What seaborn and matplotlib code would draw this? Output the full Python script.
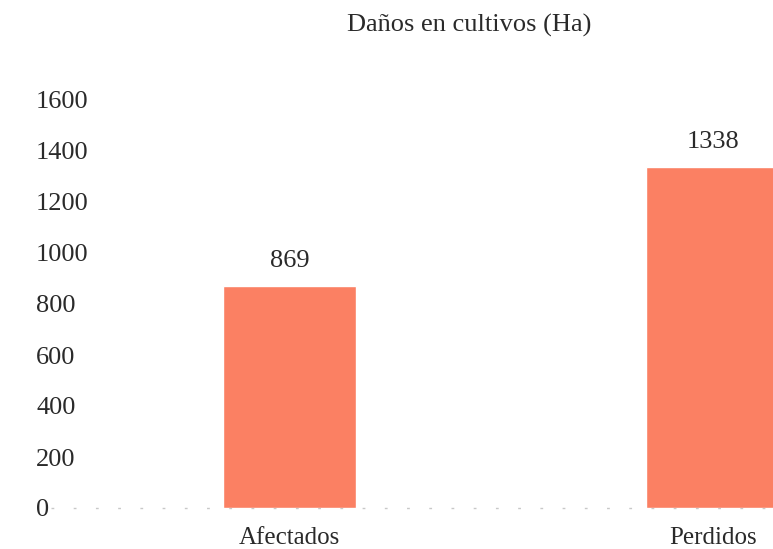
import matplotlib
matplotlib.use("Agg")
import matplotlib.pyplot as plt
import seaborn as sns
import pandas as pd

categories = ["Afectados", "Perdidos"]
values = [869, 1338]
yticks = [0, 200, 400, 600, 800, 1000, 1200, 1400, 1600]
title = "Daños en cultivos (Ha)"

sns.set_theme(style="white")
plt.rcParams["font.family"] = ["Liberation Serif", "DejaVu Serif"]
plt.rcParams["text.color"] = "#2a2a2a"

df = pd.DataFrame({"cat": categories, "val": values})

fig = plt.figure(figsize=(7.73, 5.49), dpi=100)
ax = fig.add_axes([75 / 773, 41 / 549, (773 - 75) / 773, 408 / 549])
sns.barplot(data=df, x="cat", y="val", color="#FB8063", saturation=1,
            width=0.315, ax=ax, zorder=2)
ax.set_xlim(-0.506, 1.142)
ax.set_ylim(0, 1600)
ax.set_yticks(yticks)
ax.set_yticklabels([str(t) for t in yticks], fontsize=19, color="#2a2a2a")
for lab in ax.get_yticklabels():
    lab.set_horizontalalignment("left")
ax.tick_params(axis="y", length=0, pad=28)
ax.tick_params(axis="x", length=0, pad=14, labelsize=18, labelcolor="#2a2a2a")
ax.set_xlabel("")
ax.set_ylabel("")
for s in ax.spines.values():
    s.set_visible(False)
ax.axhline(0, xmin=-0.035, color="#c8c8c8", lw=1, ls=(0, (2, 14)), zorder=1, clip_on=False)
for i, v in enumerate(values):
    ax.text(i, v + 55, str(v), ha="center", va="bottom", fontsize=19, color="#2a2a2a")
fig.text(0.607, 0.954, title, ha="center", va="center", fontsize=19, color="#2a2a2a")
fig.savefig("out.png", dpi=100)
